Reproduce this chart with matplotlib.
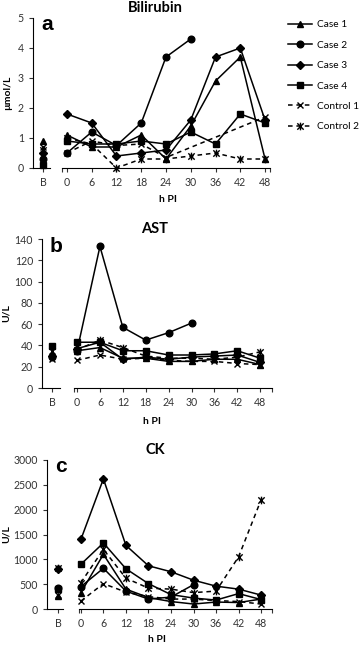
import numpy as np
import matplotlib
matplotlib.use("Agg")
import matplotlib.pyplot as plt
from matplotlib.lines import Line2D
from matplotlib.path import Path

plt.rcParams['font.family'] = ['Lato', 'DejaVu Sans']

hours = [0, 6, 12, 18, 24, 30, 36, 42, 48]
series = ["Case 1", "Case 2", "Case 3", "Case 4", "Control 1", "Control 2"]
nan = np.nan

# bilirubin, umol/L
bili_base = [0.9, 0.3, 0.5, 0.1, 0.7, 0.6]
bili = {
    "Case 1": [1.1, 0.7, 0.7, 1.1, 0.3, 1.4, 2.9, 3.7, 0.3],
    "Case 2": [0.5, 1.2, 0.75, 1.5, 3.7, 4.3, nan, nan, nan],
    "Case 3": [1.8, 1.5, 0.4, 0.5, 0.6, 1.6, 3.7, 4.0, 1.6],
    "Case 4": [0.9, 0.8, 0.8, 0.9, 0.8, 1.2, 0.8, 1.8, 1.5],
    "Control 1": [0.5, 0.9, 0.75, 0.8, 0.35, nan, nan, nan, 1.7],
    "Control 2": [1.0, 0.8, 0.0, 0.3, 0.3, 0.4, 0.5, 0.3, 0.3],
}

# AST, U/L
ast_base = [31, 29, 30, 39, 27, 35]
ast = {
    "Case 1": [35, 38, 28, 28, 25, 25, 27, 27, 22],
    "Case 2": [35, 133, 57, 45, 52, 61, nan, nan, nan],
    "Case 3": [37, 43, 27, 29, 27, 29, 30, 31, 24],
    "Case 4": [43, 43, 35, 35, 31, 31, 32, 35, 28],
    "Control 1": [26, 31, 27, 28, 26, 25, 25, 23, 22],
    "Control 2": [36, 45, 38, 30, 28, 28, 27, 29, 34],
}

# CK, U/L
ck_base = [260, 420, 800, 400, 280, 830]
ck = {
    "Case 1": [330, 1100, 400, 230, 150, 100, 140, 130, 200],
    "Case 2": [450, 820, 360, 200, 240, 490, nan, nan, nan],
    "Case 3": [1400, 2620, 1280, 870, 750, 580, 460, 400, 280],
    "Case 4": [900, 1330, 810, 510, 290, 220, 180, 310, 190],
    "Control 1": [160, 510, 340, 250, 200, 200, 170, 150, 100],
    "Control 2": [530, 1200, 620, 420, 400, 330, 360, 1050, 2200],
}

# excel-style star: an x with a vertical bar through it
star = Path([(-1, -1), (1, 1), (-1, 1), (1, -1), (0, -1.2), (0, 1.2)],
            [Path.MOVETO, Path.LINETO, Path.MOVETO, Path.LINETO,
             Path.MOVETO, Path.LINETO])

styles = {
    "Case 1": dict(marker="^", ls="-", ms=4.8),
    "Case 2": dict(marker="o", ls="-", ms=4.8),
    "Case 3": dict(marker="D", ls="-", ms=4.0),
    "Case 4": dict(marker="s", ls="-", ms=4.4),
    "Control 1": dict(marker="x", ls="--", ms=4.5),
    "Control 2": dict(marker=star, ls="--", ms=5.5),
}

W, H = 359, 646
fig = plt.figure(figsize=(W / 100, H / 100), dpi=100)
tick_col = "#333333"


def px_axes(x0, x1, ytop, ybot):
    return fig.add_axes([x0 / W, 1 - ybot / H, (x1 - x0) / W, (ybot - ytop) / H])


def px_text(x, y, s, **kw):
    return fig.text(x / W, 1 - y / H, s, ha="center", va="center", **kw)


def line_kw(st):
    kw = dict(color="black", lw=1.1, marker=st["marker"], ms=st["ms"], mew=1.0)
    if st["ls"] == "--":
        kw["dashes"] = (3, 2.5)
    return kw


def panel(data, base, ymax, ystep, ylabel, title, letter, geo):
    (yaxis_x, b_end, main_x0, main_x1, ytop, ybot, b_xmax, xlim,
     ylab_x, xlab_x, xlab_y) = geo
    axb = px_axes(yaxis_x, b_end, ytop, ybot)
    axm = px_axes(main_x0, main_x1, ytop, ybot)

    for ax in (axb, axm):
        ax.set_ylim(0, ymax)
        for s in ("top", "right"):
            ax.spines[s].set_visible(False)
        ax.tick_params(colors=tick_col, labelsize=7.6, length=3, width=0.8)
        ax.patch.set_alpha(0)

    axb.set_xlim(-1, b_xmax)
    axb.set_xticks([0])
    axb.set_xticklabels(["B"])
    axb.set_yticks(np.arange(0, ymax + 0.01, ystep))

    axm.spines["left"].set_visible(False)
    axm.set_yticks([])
    axm.set_xlim(*xlim)
    axm.set_xticks(hours)
    axm.set_xticks(list(xlim), minor=True)
    axm.tick_params(axis="x", which="minor", length=3, width=0.8, color=tick_col)

    hx = np.array(hours, dtype=float)
    for name, b in zip(series, base):
        st = styles[name]
        axb.plot([0], [b], ls="none", clip_on=False, **line_kw(st))
        y = np.array(data[name], dtype=float)
        ok = ~np.isnan(y)
        axm.plot(hx[ok], y[ok], clip_on=False, **line_kw(st))

    px_text(ylab_x, (ytop + ybot) / 2, ylabel, rotation=90, fontsize=7.5,
            fontweight="bold")
    px_text(xlab_x, xlab_y, "h PI", fontsize=7.5, fontweight="bold")
    px_text(155, ytop - 10, title, fontsize=10.5, fontweight="bold")
    fig.text((yaxis_x + 8) / W, 1 - (ytop + 7) / H, letter, ha="left",
             va="center", fontsize=15, fontweight="bold",
             family=["Liberation Sans", "DejaVu Sans"])


panel(bili, bili_base, 5, 1, "µmol/L", "Bilirubin", "a",
      (33, 50, 62, 270, 18, 168, 0.7, (-1.2, 49.2), 8, 168, 200))
panel(ast, ast_base, 140, 20, "U/L", "AST", "b",
      (42, 60, 74, 272, 239, 388, 0.8, (-0.8, 51.1), 6, 152, 421))
panel(ck, ck_base, 3000, 500, "U/L", "CK", "c",
      (47, 63, 79, 272, 460, 609, 0.45, (-0.5, 50.9), 6, 157, 640))

handles = [Line2D([], [], **line_kw(styles[name])) for name in series]
fig.legend(handles, series, loc="upper left", bbox_to_anchor=(284 / W, 1 - 16 / H),
           frameon=False, fontsize=7.3, handlelength=2.4, labelspacing=1.12,
           handletextpad=0.5, borderaxespad=0)

fig.savefig("out.png", dpi=100)
